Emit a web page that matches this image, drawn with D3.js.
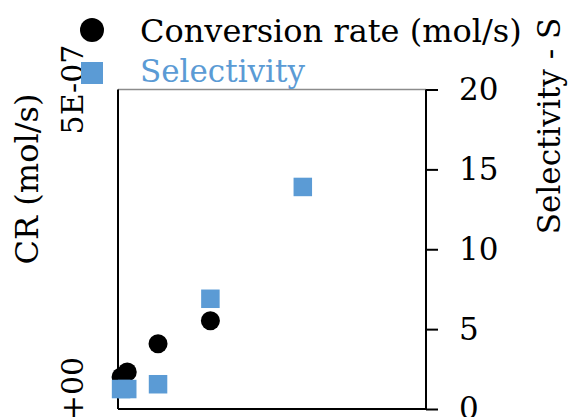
<!DOCTYPE html>
<html>
<head>
<meta charset="utf-8">
<script src="https://cdn.jsdelivr.net/npm/d3@7"></script>
<style>
  body { margin: 0; background: #fff; }
  svg { display: block; font-family: 'DejaVu Serif', serif; }
</style>
</head>
<body>
<div id="chart"></div>
<script>
var xVals = [0.1, 0.3, 1.3, 3.0, 6.0];
var crVals = [5.0e-8, 5.8e-8, 1.02e-7, 1.38e-7];
var selVals = [1.25, 1.25, 1.55, 6.9, 13.9];
var leftTicks = [0, 5e-7];
var leftTickLabels = ["0E+00", "5E-07"];
var rightTicks = [0, 5, 10, 15, 20];

var width = 574, height = 417;
var margin = {top: 89.5, right: 148, bottom: 8, left: 118};

var svg = d3.select("#chart").append("svg")
  .attr("width", width)
  .attr("height", height);

var x = d3.scaleLinear().domain([0, 10]).range([margin.left, width - margin.right]);
var yL = d3.scaleLinear().domain([0, 5e-7]).range([height - margin.bottom, margin.top]);
var yR = d3.scaleLinear().domain([0, 20]).range([height - margin.bottom, margin.top]);

// top frame line
svg.append("line")
  .attr("x1", x(0)).attr("x2", x(10))
  .attr("y1", yR(20)).attr("y2", yR(20))
  .attr("stroke", "#8c8c8c")
  .attr("stroke-width", 1.5);

// bottom axis
svg.append("line")
  .attr("x1", x(0)).attr("x2", x(10))
  .attr("y1", yR(0)).attr("y2", yR(0))
  .attr("stroke", "#000")
  .attr("stroke-width", 2);

// left axis
svg.append("line")
  .attr("x1", x(0)).attr("x2", x(0))
  .attr("y1", yL(0)).attr("y2", yL(5e-7))
  .attr("stroke", "#000")
  .attr("stroke-width", 2);

svg.selectAll(".ltick")
  .data(leftTicks)
  .enter().append("text")
  .attr("transform", function (d) { return "translate(83," + yL(d) + ") rotate(-90)"; })
  .attr("text-anchor", "middle")
  .attr("font-size", "30px")
  .attr("fill", "#000")
  .text(function (d, i) { return leftTickLabels[i]; });

// right axis
var right = svg.append("g")
  .attr("transform", "translate(" + x(10) + ",0)")
  .call(d3.axisRight(yR).tickValues(rightTicks).tickSize(12).tickPadding(21));
right.select(".domain").attr("stroke-width", 2).attr("d", "M0," + yR(0) + "V" + yR(20));
right.selectAll(".tick line").attr("stroke-width", 2);
right.selectAll(".tick text")
  .attr("font-size", "31px")
  .attr("font-family", "'DejaVu Serif', serif")
  .attr("fill", "#000");

// axis titles
svg.append("text")
  .attr("transform", "translate(38,179) rotate(-90)")
  .attr("text-anchor", "middle")
  .attr("font-size", "32px")
  .attr("fill", "#000")
  .text("CR (mol/s)");

svg.append("text")
  .attr("transform", "translate(560,126) rotate(-90)")
  .attr("text-anchor", "middle")
  .attr("font-size", "31px")
  .attr("fill", "#000")
  .text("Selectivity - S");

// conversion rate points
svg.selectAll(".cr")
  .data(crVals)
  .enter().append("circle")
  .attr("cx", function (d, i) { return x(xVals[i]); })
  .attr("cy", function (d) { return yL(d); })
  .attr("r", 9.5)
  .attr("fill", "#000");

// selectivity points
var sq = 18.5;
svg.selectAll(".sel")
  .data(selVals)
  .enter().append("rect")
  .attr("x", function (d, i) { return x(xVals[i]) - sq / 2; })
  .attr("y", function (d) { return yR(d) - sq / 2; })
  .attr("width", sq)
  .attr("height", sq)
  .attr("fill", "#5b9bd5");

// legend
svg.append("circle")
  .attr("cx", 92).attr("cy", 30).attr("r", 12)
  .attr("fill", "#000");
svg.append("rect")
  .attr("x", 81).attr("y", 62).attr("width", 22).attr("height", 22)
  .attr("fill", "#5b9bd5");
svg.append("text")
  .attr("x", 140).attr("y", 42)
  .attr("font-size", "32px")
  .attr("fill", "#000")
  .text("Conversion rate (mol/s)");
svg.append("text")
  .attr("x", 140).attr("y", 82)
  .attr("font-size", "31px")
  .attr("fill", "#5b9bd5")
  .text("Selectivity");
</script>
</body>
</html>
